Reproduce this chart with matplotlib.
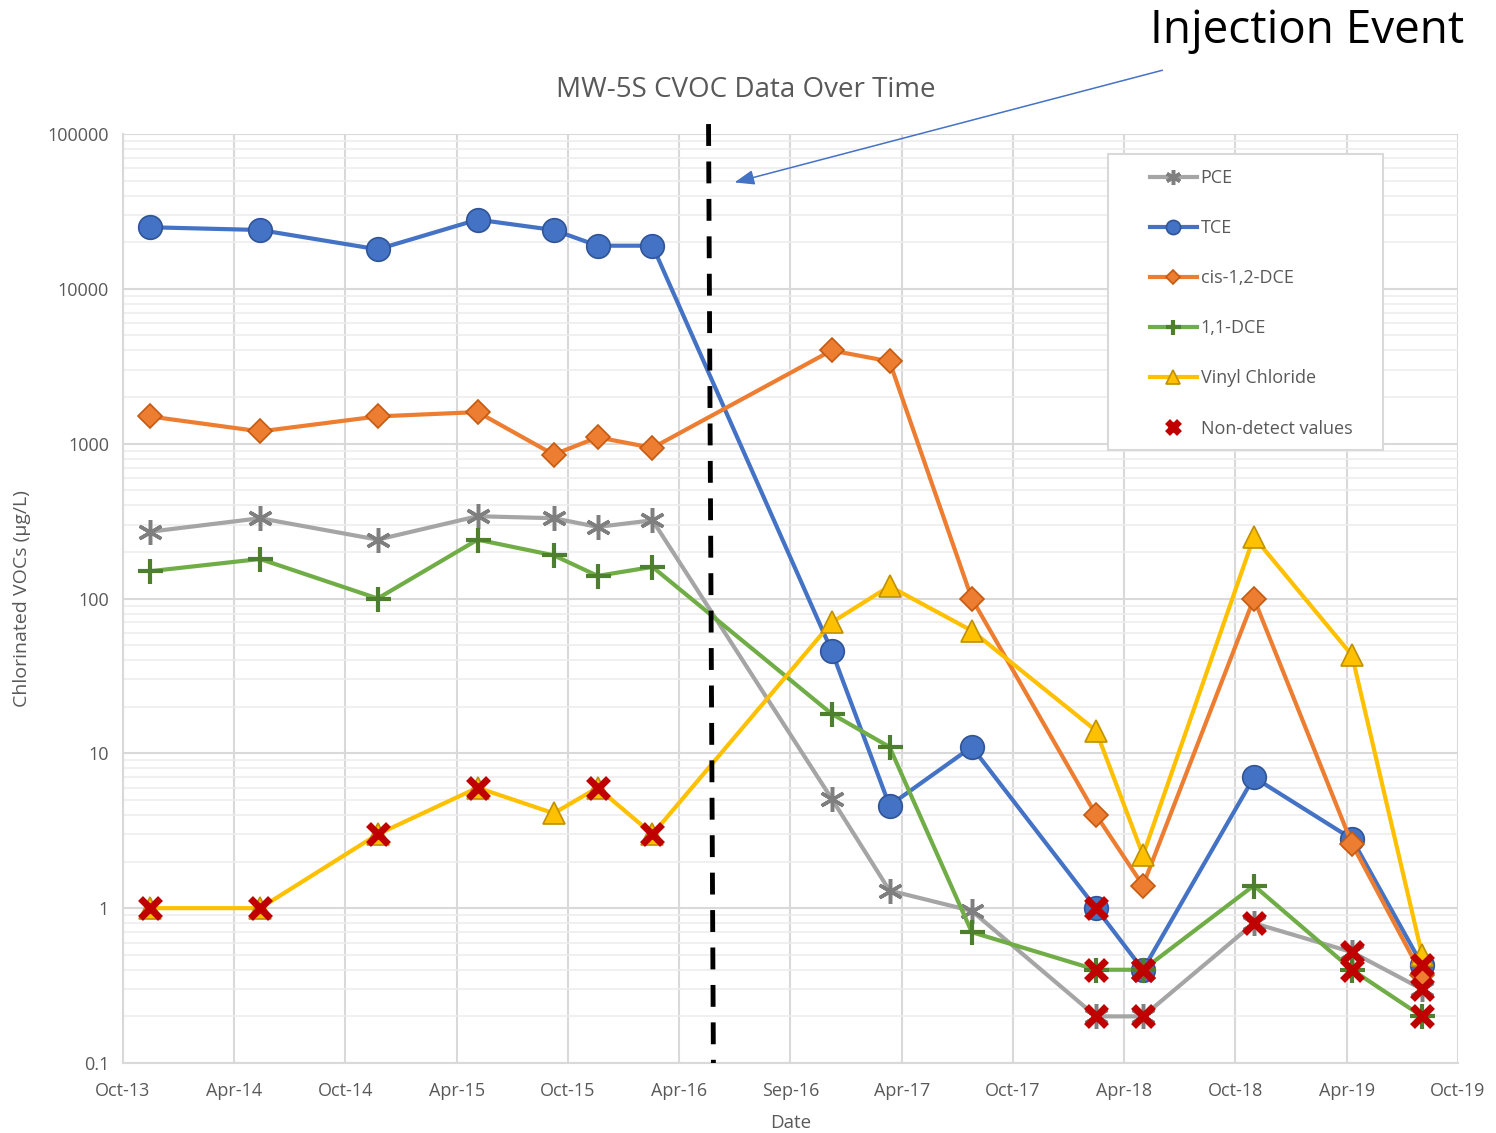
import datetime as dt
import matplotlib
matplotlib.use("Agg")
import matplotlib.pyplot as plt
import matplotlib.dates as mdates
from matplotlib.patches import Rectangle
from matplotlib.ticker import LogLocator, FixedLocator, FuncFormatter, NullFormatter

plt.rcParams['font.family'] = ['Open Sans', 'DejaVu Sans']

# sampling dates
dates = [
    dt.date(2013, 11, 14), dt.date(2014, 5, 14), dt.date(2014, 11, 23),
    dt.date(2015, 5, 6), dt.date(2015, 9, 8), dt.date(2015, 11, 19),
    dt.date(2016, 2, 17), dt.date(2016, 12, 7), dt.date(2017, 3, 12),
    dt.date(2017, 7, 25), dt.date(2018, 2, 14), dt.date(2018, 5, 2),
    dt.date(2018, 10, 31), dt.date(2019, 4, 10), dt.date(2019, 8, 3),
]

# concentrations (ug/L)
pce = [270, 330, 240, 340, 330, 290, 320, 5.1, 1.3, 0.96, 0.2, 0.2, 0.8, 0.52, 0.3]
tce = [25000, 24000, 18000, 28000, 24000, 19000, 19000, 46, 4.6, 11, 1.0, 0.4, 7, 2.8, 0.43]
cis_dce = [1500, 1200, 1500, 1600, 850, 1100, 940, 4000, 3400, 100, 4.0, 1.4, 100, 2.6, 0.37]
dce_11 = [150, 180, 100, 240, 190, 140, 160, 18, 11, 0.7, 0.4, 0.4, 1.4, 0.4, 0.2]
vinyl = [1, 1, 3, 6, 4.1, 6, 3, 70, 120, 62, 14, 2.2, 250, 43, 0.5]

# indices of non-detect results for each series
pce_nd = [10, 11, 12, 13, 14]
tce_nd = [10, 11, 14]
cis_nd = []
dce_nd = [10, 11, 13, 14]
vinyl_nd = [0, 1, 2, 3, 5, 6]

tick_labels = ['Oct-13', 'Apr-14', 'Oct-14', 'Apr-15', 'Oct-15', 'Apr-16', 'Sep-16',
               'Apr-17', 'Oct-17', 'Apr-18', 'Oct-18', 'Apr-19', 'Oct-19']
x_start = dt.date(2013, 10, 1)
x_end = dt.date(2019, 10, 1)
injection_date = dt.date(2016, 5, 23)

series = [
    ('PCE', pce, pce_nd, dict(color='#A5A5A5', marker=(6, 2, 0), ms=18, mec='#7F7F7F', mew=2.5)),
    ('TCE', tce, tce_nd, dict(color='#4472C4', marker='o', ms=17, mfc='#4472C4', mec='#2F5597', mew=1.2)),
    ('cis-1,2-DCE', cis_dce, cis_nd, dict(color='#ED7D31', marker='D', ms=12.5, mfc='#ED7D31', mec='#C55A11', mew=1.2)),
    ('1,1-DCE', dce_11, dce_nd, dict(color='#70AD47', marker='+', ms=18, mec='#4E7F2F', mew=3)),
    ('Vinyl Chloride', vinyl, vinyl_nd, dict(color='#FFC000', marker='^', ms=16, mfc='#FFC000', mec='#BF9000', mew=1.2)),
]

fig = plt.figure(figsize=(14.96, 11.33), dpi=100)
ax = fig.add_axes([0.0822, 0.0618, 0.8924, 0.8199])

xd = mdates.date2num(dates)
for name, vals, nd, style in series:
    ax.plot(xd, vals, lw=3, label=name, zorder=3, **style)

# red crosses on top of the non-detect results
nd_x = []
nd_y = []
for name, vals, nd, style in series:
    for i in nd:
        nd_x.append(xd[i])
        nd_y.append(vals[i])
ax.plot(nd_x, nd_y, ls='none', marker='x', ms=15, mew=5, color='#C00000',
        label='Non-detect values', zorder=5)

ax.set_yscale('log')
ax.set_ylim(0.1, 100000)
x0 = mdates.date2num(x_start)
x1 = mdates.date2num(x_end)
ax.set_xlim(x0, x1)
ticks = [x0 + (x1 - x0) * k / 12 for k in range(13)]
ax.xaxis.set_major_locator(FixedLocator(ticks))
ax.set_xticklabels(tick_labels)

ax.yaxis.set_major_locator(LogLocator(base=10, numticks=10))
ax.yaxis.set_minor_locator(LogLocator(base=10, subs=range(2, 10), numticks=20))
ax.yaxis.set_major_formatter(FuncFormatter(lambda v, p: f'{v:g}' if v < 1 else f'{int(round(v))}'))
ax.yaxis.set_minor_formatter(NullFormatter())

ax.grid(True, which='major', color='#D9D9D9', lw=1.5, zorder=0)
ax.grid(True, which='minor', axis='y', color='#EDEDED', lw=1.2, zorder=0)
ax.set_axisbelow(True)
for s in ['top', 'right']:
    ax.spines[s].set_visible(False)
ax.spines['left'].set_color('#D9D9D9')
ax.spines['bottom'].set_color('#D9D9D9')
ax.spines['left'].set_linewidth(1.5)
ax.spines['bottom'].set_linewidth(1.5)
ax.tick_params(which='both', length=0, labelsize=13, labelcolor='#595959')
ax.tick_params(axis='x', pad=14)
ax.tick_params(axis='y', pad=10)

ax.set_xlabel('Date', fontsize=13.5, color='#595959', labelpad=10)
ax.set_ylabel('Chlorinated VOCs (µg/L)', fontsize=14, color='#595959', labelpad=12)
fig.text(0.4987, 0.9205, 'MW-5S CVOC Data Over Time', ha='center', va='center',
         fontsize=20, color='#595959')

# injection event marker
inj = mdates.date2num(injection_date)
ax.plot([inj - 4, inj + 4], [116000, 0.1], color='black', lw=3.5, ls=(0, (4.5, 3.2)),
        clip_on=False, zorder=4)

fig.text(0.7687, 0.9725, 'Injection Event', ha='left', va='center', fontsize=33, color='black')
ax.annotate('', xy=(0.491, 0.839), xycoords='figure fraction',
            xytext=(0.777, 0.938), textcoords='figure fraction',
            arrowprops=dict(arrowstyle='-|>,head_length=1.2,head_width=0.45',
                            color='#4472C4', lw=1.1, shrinkA=0, shrinkB=0))

# legend box drawn separately so the padding matches the original
ax.add_patch(Rectangle((0.7378, 0.6598), 0.2060, 0.3186, transform=ax.transAxes,
                       facecolor='white', edgecolor='#D9D9D9', lw=1.5, zorder=9))
leg = ax.legend(loc='upper left', bbox_to_anchor=(0.7693, 0.9625), fontsize=13,
                labelspacing=1.78, handlelength=2.6, handletextpad=0.2,
                borderpad=0, borderaxespad=0, markerscale=0.6, frameon=False)
leg.set_zorder(10)
for t in leg.get_texts():
    t.set_color('#595959')

fig.savefig('out.png', dpi=100)
